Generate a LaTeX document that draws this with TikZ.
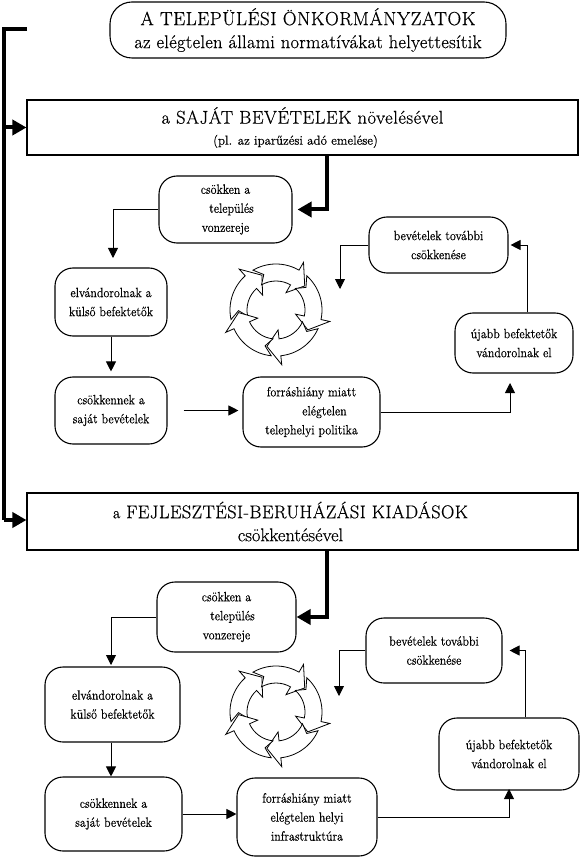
\documentclass[tikz,border=0pt]{standalone}
\usepackage{fontspec}
\setmainfont{Latin Modern Roman}[FakeBold=0.45]
\usetikzlibrary{arrows.meta,calc}
\newcommand\cycarrow[1]{%
  \pgfmathsetmacro\cyta{#1+80}%
  \pgfmathsetmacro\cytb{#1+20}%
  \pgfmathsetmacro\cytc{#1+69}%
  \filldraw[fill=white, line width=0.8pt, line join=miter]
    (\cyta:46) arc[start angle=\cyta, end angle=\cytb, radius=46]
    -- (\cytb:55) -- (#1:37.5) -- (\cytb:20) -- (\cytb:29)
    arc[start angle=\cytb, end angle=\cyta, radius=29]
    -- (\cytc:37.5) -- cycle;}
\begin{document}
\begin{tikzpicture}[x=1pt,y=-1pt,
  rbox/.style={draw, line width=1.1pt, rounded corners=18pt, align=center,
    font=\fontsize{13.5}{19}\selectfont\addfontfeatures{FakeStretch=0.89}, inner sep=0pt},
  sqbox/.style={draw, line width=1.1pt, align=center, inner sep=0pt},
  thinarrow/.style={line width=0.9pt, -{Triangle[length=10pt,width=10pt]}},
  thickarrow/.style={line width=4pt, line join=miter, -{Triangle[length=14pt,width=15pt]}},
]
\useasboundingbox (0,0) rectangle (580,858);

% ---------- title ----------
\node[sqbox, rounded corners=22pt, minimum width=396pt, minimum height=56pt,
  font=\fontsize{18}{23}\selectfont] (title) at (308,30)
  {{\fontsize{19}{23}\selectfont\addfontfeatures{LetterSpace=3}A TELEPÜLÉSI ÖNKORMÁNYZATOK}\\
   {\fontsize{18.5}{23}\selectfont\addfontfeatures{LetterSpace=1.5}az elégtelen állami normatívákat helyettesítik}};

% ---------- section 1 ----------
\node[sqbox, minimum width=551pt, minimum height=55pt,
  font=\fontsize{18.5}{21}\selectfont] (box1) at (302.5,127.5)
  {{\addfontfeatures{LetterSpace=3}a SAJÁT BEVÉTELEK növelésével}\\%
   {\fontsize{13}{14}\selectfont (pl. az iparűzési adó emelése)}\hspace*{14pt}};

\node[rbox, minimum width=133pt, minimum height=67pt] (c1) at (225.5,209.5)
  {csökken a\\\hspace*{12pt}település\\vonzereje};
\node[rbox, minimum width=112pt, minimum height=68pt] (e1) at (111,302)
  {elvándorolnak a\\külső befektetők};
\node[rbox, minimum width=112pt, minimum height=67pt] (s1) at (111,410.5)
  {csökkennek a\\saját bevételek};
\node[rbox, minimum width=137pt, minimum height=70pt] (f1) at (311.5,412)
  {forráshiány miatt\\\hspace*{26pt}elégtelen\\telephelyi politika};
\node[rbox, minimum width=118pt, minimum height=60pt] (u1) at (514,343)
  {újabb befektetők\\vándorolnak el};
\node[rbox, minimum width=139pt, minimum height=56pt] (b1) at (438.5,245)
  {bevételek további\\csökkenése};

\begin{scope}[shift={(276,310)}, yscale=-1]
  \foreach \t in {112,40,-32,-104,-176} {\cycarrow{\t}}
\end{scope}

\coordinate (k1) at (327,0);
\coordinate (k2) at (527,0);
\coordinate (t1) at (113,258);
\coordinate (t2) at (510,383);
\coordinate (t3) at (340,289);

\draw[thickarrow, shorten >=5pt] (box1.south -| k1) |- (c1.east);
\draw[thinarrow] (c1.west) -| (t1);
\draw[thinarrow, shorten >=5pt] (e1.south) -- (s1.north);
\draw[thinarrow, shorten <=16pt, shorten >=4pt] (s1.east) -- (s1.east -| f1.west);
\draw[thinarrow] (f1.east) -| (t2);
\draw[thinarrow, shorten >=2pt] (u1.north -| k2) |- (b1.east);
\draw[thinarrow] (b1.west) -| (t3);

% ---------- section 2 ----------
\node[sqbox, minimum width=551pt, minimum height=57pt,
  font=\fontsize{18.5}{23}\selectfont] (box2) at (302.5,521.5)
  {{\addfontfeatures{LetterSpace=2}{\fontsize{16}{23}\selectfont a} FEJLESZTÉSI-BERUHÁZÁSI KIADÁSOK}\hspace*{24pt}\\
   csökkentésével\hspace*{24pt}};

\node[rbox, minimum width=139pt, minimum height=70pt] (c2) at (226.5,617)
  {csökken a\\\hspace*{12pt}település\\vonzereje};
\node[rbox, minimum width=136pt, minimum height=65pt] (b2) at (434,650.5)
  {bevételek további\\csökkenése};
\node[rbox, minimum width=135pt, minimum height=75pt] (e2) at (112.5,704.5)
  {elvándorolnak a\\külső befektetők};
\node[rbox, minimum width=137pt, minimum height=74pt] (s2) at (113.5,814)
  {csökkennek a\\saját bevételek};
\node[rbox, minimum width=140pt, minimum height=78pt] (f2) at (307,817)
  {forráshiány miatt\\elégtelen helyi\\infrastruktúra};
\node[rbox, minimum width=140pt, minimum height=72pt] (u2) at (509,754)
  {újabb befektetők\\vándorolnak el};

\begin{scope}[shift={(276,712)}, yscale=-1]
  \foreach \t in {112,40,-32,-104,-176} {\cycarrow{\t}}
\end{scope}

\coordinate (k3) at (525,0);
\coordinate (t4) at (111,665);
\coordinate (t5) at (509,789);
\coordinate (t6) at (339,696);

\draw[thickarrow] (box2.south -| k1) |- (c2.east);
\draw[thinarrow] (c2.west) -| (t4);
\draw[thinarrow] (e2.south -| t4) -- (s2.north -| t4);
\draw[thinarrow] (s2.east) -- (s2.east -| f2.west);
\draw[thinarrow] (f2.east) -| (t5);
\draw[thinarrow, shorten >=7pt] (u2.north -| k3) |- (b2.east);
\draw[thinarrow] (b2.west) -| (t6);

% ---------- left bracket ----------
\coordinate (bt) at (4,29);
\coordinate (bb) at (4,520);
\coordinate (bs) at (27,29);
\draw[thickarrow, -] (bs) -- (bt) -- (bb);
\draw[thickarrow] (bb) -- (bb -| box2.west);
\draw[thickarrow] (bt |- box1.west) -- (box1.west);
\end{tikzpicture}
\end{document}
